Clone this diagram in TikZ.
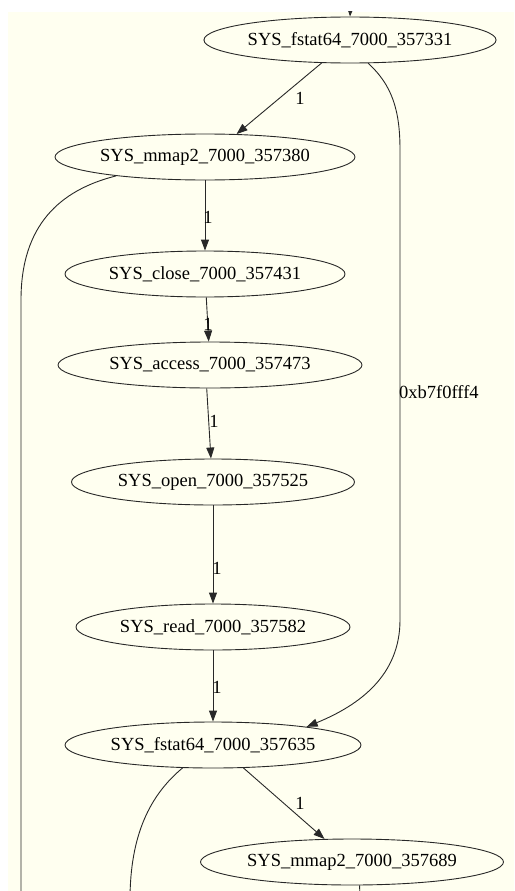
\documentclass[tikz,border=0pt]{standalone}
\usepackage{fontspec}
\setmainfont{Liberation Serif}
\usepackage{tikz}
\usetikzlibrary{shapes.geometric, arrows.meta}

\definecolor{ivorybg}{RGB}{255,255,240}
\definecolor{edgegray}{RGB}{40,40,40}

\tikzset{
	call/.style={ellipse, draw=edgegray, line width=0.9pt, inner xsep=1pt, minimum height=46pt},
	flow/.style={draw=edgegray, line width=0.9pt, -{Triangle[length=11pt, width=8pt]}},
	tail/.style={draw=edgegray, line width=0.9pt},
	cnt/.style={inner sep=1pt}
}

\begin{document}
\begin{tikzpicture}[x=1pt, y=-1pt, font=\fontsize{18.5}{20}\selectfont]
		% page and canvas
		\useasboundingbox (0,0) rectangle (514,891);
		\fill[white] (0,0) rectangle (514,891);
		\fill[ivorybg] (8,12) rectangle (514,891);
		\clip (8,12) rectangle (514,891);
		
		% Calls (top to bottom)
		\node[call, minimum width=292pt] (f1) at (350,40) {SYS\_fstat64\_7000\_357331};
		\node[call, minimum width=300pt] (m1) at (205,157) {SYS\_mmap2\_7000\_357380};
		\node[call, minimum width=280pt] (c)  at (205,274) {SYS\_close\_7000\_357431};
		\node[call, minimum width=304pt] (a)  at (210,365) {SYS\_access\_7000\_357473};
		\node[call, minimum width=283pt] (o)  at (213,482) {SYS\_open\_7000\_357525};
		\node[call, minimum width=274pt] (r)  at (213,627) {SYS\_read\_7000\_357582};
		\node[call, minimum width=296pt] (f2) at (213,745) {SYS\_fstat64\_7000\_357635};
		\node[call, minimum width=303pt] (m2) at (352,862) {SYS\_mmap2\_7000\_357689};
		
		% Free ends outside the view
		\coordinate (topin) at (351,-6);
		\coordinate (outleft) at (21,900);
		\coordinate (outmid) at (130,900);
		\coordinate (outright) at (360,900);
		
		% Edges
		\draw[flow] (topin) -- (f1.north);
		\draw[flow] (f1.219) -- (m1.36);
		\node[cnt] (l1) at (300,98) {1};
		\draw[flow] (f1.308) .. controls (392,85) and (400,110) .. (400,150)
			-- (400,620) .. controls (400,675) and (360,705) .. (f2.11);
		\node[cnt, anchor=west] (lhex) at (398,392) {0xb7f0fff4};
		\draw[tail] (m1.192) .. controls (60,190) and (21,225) .. (21,300) -- (outleft);
		\draw[flow] (m1) -- (c);
		\node[cnt] (l2) at (208,217) {1};
		\draw[flow] (c) -- (a);
		\node[cnt] (l3) at (208,324) {1};
		\draw[flow] (a.262) -- (o.95);
		\node[cnt] (l4) at (214,421) {1};
		\draw[flow] (o) -- (r);
		\node[cnt] (l5) at (217,568) {1};
		\draw[flow] (r) -- (f2);
		\node[cnt] (l6) at (217,687) {1};
		\draw[flow] (f2.323) -- (m2.140);
		\node[cnt] (l7) at (300,803) {1};
		\draw[tail] (f2.217) .. controls (150,795) and (130,835) .. (outmid);
		\draw[tail] (m2.288) -- (outright);
	\end{tikzpicture}
\end{document}
